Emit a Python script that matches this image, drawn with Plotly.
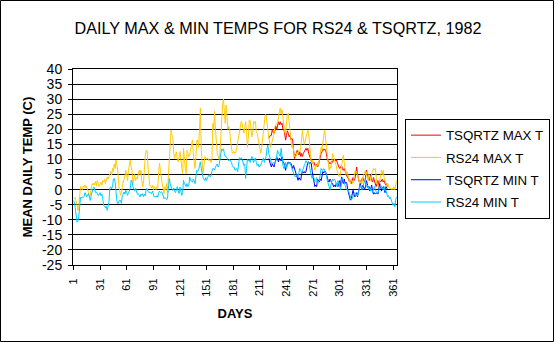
import plotly.graph_objects as go

# ---------------- data ----------------
DAYS_RS24 = list(range(1, 366))
DAYS_TSQ = list(range(221, 356))
X_TICKS = [1, 31, 61, 91, 121, 151, 181, 211, 241, 271, 301, 331, 361]
Y_TICKS = [-25, -20, -15, -10, -5, 0, 5, 10, 15, 20, 25, 30, 35, 40]

RS24_MAX = [
    -2.8, -3.0, -2.6, -3.5, -5.0, -6.9, -6.3, -2.0, 1.0, 0.5,
    0.0, 1.2, 0.8, 1.5, 0.5, 1.0, 0.2, -1.0, -2.4, -1.8,
    0.5, 2.0, 1.5, 2.2, 1.5, 2.8, 1.2, 3.0, 2.0, 1.0,
    1.8, 2.5, 1.5, 3.0, 2.5, 3.5, 2.0, 2.8, 4.2, 3.5,
    4.2, 5.0, 6.0, 4.8, 7.0, 6.0, 8.5, 7.0, 9.8, 8.0,
    6.0, 1.5, 0.0, -1.9, -1.0, 1.5, 2.5, 3.5, 4.5, 6.4,
    4.5, 3.0, 6.4, 8.0, 9.8, 7.5, 6.4, 2.0, 3.5, 5.0,
    3.0, 4.0, 3.5, 5.0, 6.4, 5.0, 6.4, 3.0, 0.9, 2.5,
    10.0, 11.5, 13.0, 13.0, 7.5, 3.0, 1.5, 1.0, 0.5, 1.5,
    0.0, 1.0, 0.5, 0.0, 1.0, 0.5, 6.0, 8.7, 6.4, 3.0,
    2.0, 0.5, -1.3, 1.0, 0.0, 2.0, -1.0, 5.0, 11.4, 16.0,
    19.8, 18.0, 17.5, 12.0, 10.3, 11.5, 12.5, 10.0, 9.2, 11.0,
    12.6, 10.0, 7.5, 5.3, 13.7, 9.0, 7.0, 5.3, 13.0, 12.0,
    11.0, 11.5, 13.0, 14.5, 16.4, 12.0, 9.0, 7.0, 11.0, 16.4,
    16.4, 14.0, 20.0, 27.0, 13.0, 9.0, 5.3, 8.0, 11.0, 10.5,
    10.0, 10.5, 10.0, 9.5, 10.0, 9.0, 10.0, 22.0, 20.0, 26.0,
    20.0, 15.3, 12.0, 11.0, 10.0, 12.0, 18.0, 25.3, 28.0, 30.0,
    25.3, 22.0, 28.0, 23.0, 20.0, 21.0, 20.0, 16.0, 13.0, 12.0,
    12.5, 12.5, 12.0, 12.5, 14.0, 15.5, 17.5, 19.0, 21.0, 22.6,
    22.0, 20.0, 18.7, 20.5, 22.5, 19.0, 14.0, 17.0, 23.0, 23.0,
    20.0, 17.5, 19.0, 22.6, 22.0, 22.6, 19.0, 18.7, 17.0, 15.0,
    13.5, 12.0, 13.7, 16.0, 20.0, 22.0, 24.8, 24.8, 23.0, 20.0,
    17.5, 16.0, 14.0, 15.0, 16.0, 17.0, 18.7, 21.0, 21.5, 22.0,
    22.0, 24.8, 26.0, 27.0, 25.0, 26.4, 24.0, 21.0, 19.0, 18.7,
    22.0, 25.0, 25.3, 22.0, 19.0, 16.0, 14.0, 15.0, 13.0, 11.0,
    10.9, 11.0, 12.5, 12.0, 13.0, 12.5, 14.0, 17.0, 19.8, 17.0,
    15.0, 16.0, 17.5, 18.7, 19.8, 18.7, 15.0, 10.0, 8.0, 9.8,
    8.5, 7.0, 6.4, 8.0, 7.5, 9.0, 8.0, 10.0, 12.0, 14.0,
    13.0, 16.4, 18.0, 19.8, 17.0, 14.0, 11.0, 9.0, 6.4, 8.0,
    7.0, 9.0, 12.0, 11.0, 10.0, 9.8, 8.0, 6.4, 5.0, 4.5,
    4.2, 6.0, 8.7, 10.0, 11.4, 9.0, 6.4, 5.0, 6.0, 4.5,
    4.2, 3.0, 2.0, 3.5, 2.5, 2.0, 4.0, 6.0, 5.5, 6.0,
    4.5, 3.5, 2.5, 2.0, 3.0, 2.0, 4.0, 5.0, 5.9, 5.0,
    5.9, 4.0, 3.0, 5.0, 4.0, 3.0, 5.5, 6.0, 7.0, 6.5,
    7.0, 3.0, 2.0, 1.5, 1.0, 3.0, 4.5, 6.4, 5.0, 6.4,
    4.0, 3.0, 2.0, 1.0, 2.0, 1.0, 0.9, 0.5, 0.0, 0.5,
    0.0, 1.0, 0.0, 1.5, 3.0,
]

RS24_MIN = [
    -3.6, -4.1, -6.0, -9.0, -10.8, -10.5, -9.0, -5.8, -2.5, -2.8,
    -2.4, -2.6, -2.2, -1.0, -1.5, -2.4, -1.8, -1.3, -2.5, -3.6,
    -2.0, -0.5, 0.3, 0.9, -0.5, -1.0, -0.8, -1.2, -2.0, -1.5,
    -1.0, -2.0, -1.5, -3.0, -5.2, -5.5, -6.0, -5.5, -6.9, -5.5,
    -4.0, 0.5, 0.9, 0.3, 1.0, 3.5, 3.7, 2.5, -1.0, -4.0,
    -4.7, -4.2, -3.5, -3.6, -4.5, -2.0, -1.0, -0.8, -1.5, -0.2,
    -1.0, -1.9, -1.0, -0.5, 0.3, 3.1, 2.6, 1.0, 0.0, -0.5,
    0.5, -1.0, -1.5, -1.3, -2.0, -2.4, -1.5, -2.0, -1.3, -2.4,
    -1.5, -2.0, 0.3, 0.3, -0.5, -1.0, -0.8, -1.0, -1.3, -0.5,
    -1.5, -2.5, -2.2, -2.5, -2.0, -2.5, -1.0, -0.5, -1.0, -0.8,
    -1.0, -2.0, -3.0, -2.6, -3.0, -3.3, -2.8, 0.5, 3.7, 2.0,
    0.3, 0.0, -0.2, 0.5, -0.5, -1.0, 0.0, 1.0, -0.5, -1.3,
    0.9, -0.2, -1.9, -1.0, 3.1, 2.0, 1.5, 1.0, 2.0, 1.0,
    1.5, 4.2, 3.0, 3.0, 2.5, 3.5, 3.0, 2.0, 4.5, 6.4,
    6.0, 6.4, 8.0, 9.2, 7.0, 5.3, 4.0, 3.5, 3.0, 4.0,
    3.0, 4.0, 4.5, 5.0, 4.2, 4.5, 6.0, 7.0, 7.0, 6.5,
    7.5, 8.0, 8.5, 7.5, 8.0, 9.8, 12.0, 13.5, 13.0, 13.5,
    12.0, 11.0, 11.0, 10.5, 10.0, 9.5, 10.0, 9.5, 9.0, 8.0,
    7.5, 7.5, 6.4, 6.5, 7.0, 6.0, 9.0, 10.6, 10.0, 10.6,
    10.0, 9.0, 8.0, 8.5, 3.7, 7.0, 10.0, 9.5, 10.0, 9.0,
    10.0, 11.0, 10.0, 9.0, 10.0, 10.5, 9.0, 8.0, 8.5, 7.5,
    8.0, 8.0, 9.0, 10.0, 10.5, 9.0, 10.0, 11.0, 13.5, 14.8,
    12.0, 10.9, 9.5, 9.0, 8.5, 9.0, 8.7, 8.5, 9.5, 11.0,
    13.0, 12.0, 11.5, 11.0, 13.7, 10.0, 8.0, 7.0, 8.5, 9.0,
    7.0, 8.5, 9.0, 8.5, 8.7, 8.0, 7.0, 6.4, 5.0, 4.5,
    4.2, 4.5, 5.0, 4.2, 6.0, 7.0, 6.4, 5.5, 6.0, 7.5,
    8.0, 8.7, 9.6, 9.0, 8.7, 9.0, 7.0, 5.3, 4.5, 3.7,
    4.5, 3.7, 2.5, 3.0, 4.0, 2.0, 2.5, 3.0, 5.0, 7.0,
    6.4, 6.5, 7.0, 6.4, 5.5, 5.0, 3.0, 2.0, 0.5, 0.0,
    1.5, 2.5, 3.5, 3.0, 3.5, 3.0, 2.0, 1.0, 3.0, 2.0,
    1.0, 0.0, 3.0, 4.0, 3.0, 2.5, 1.5, 0.5, 0.0, 0.0,
    -0.5, -1.3, -2.5, -3.5, -3.0, -2.0, -1.5, -1.0, -2.0, -1.5,
    -2.0, -1.0, 0.5, 1.5, 0.8, 0.0, 1.0, 2.0, 3.0, 2.0,
    1.0, 1.5, 1.0, 0.0, 0.5, -0.5, 0.0, -1.0, 0.5, 1.0,
    0.0, -0.5, -1.3, -1.0, -0.5, 0.5, 1.5, 1.0, 0.5, 0.0,
    1.0, -0.5, -0.2, -1.0, -2.4, -2.0, -3.0, -2.5, -3.5, -4.0,
    -5.2, -4.5, -5.8, -3.5, -2.4,
]

TSQRTZ_MAX = [
    17.0, 17.5, 18.0, 18.0, 20.0, 19.0, 18.7, 19.5, 21.0, 20.0,
    22.0, 22.5, 21.5, 22.5, 21.5, 22.0, 20.0, 20.0, 18.5, 16.4,
    18.0, 19.5, 18.7, 17.5, 18.0, 16.5, 17.0, 16.5, 13.0, 10.3,
    11.5, 12.0, 13.0, 12.0, 11.5, 12.5, 11.0, 12.0, 11.0, 12.0,
    12.5, 13.0, 13.7, 13.0, 13.7, 12.0, 11.0, 10.0, 9.6, 9.0,
    8.7, 9.0, 8.0, 8.0, 8.5, 7.5, 8.0, 9.5, 11.0, 12.0,
    12.5, 13.5, 13.0, 13.5, 13.0, 12.0, 10.0, 9.5, 9.0, 8.5,
    9.0, 9.5, 9.0, 10.0, 10.0, 9.5, 10.0, 9.0, 8.0, 7.5,
    7.0, 7.5, 8.0, 7.0, 6.4, 7.0, 6.0, 5.0, 4.5, 4.0,
    3.5, 2.5, 3.0, 2.0, 3.0, 4.0, 3.0, 3.5, 5.0, 7.5,
    5.0, 4.0, 2.5, 3.0, 2.0, 3.5, 4.0, 3.0, 2.5, 4.0,
    6.5, 5.0, 4.0, 3.0, 4.5, 5.0, 3.0, 2.5, 4.0, 3.0,
    2.0, 1.0, 2.0, 3.0, 1.5, 3.0, 2.5, 3.0, 3.5, 2.5,
    3.0, 2.0, 1.5, 2.0, 1.0,
]

TSQRTZ_MIN = [
    10.3, 9.0, 8.0, 7.5, 8.5, 8.0, 7.5, 9.0, 10.0, 10.9,
    10.0, 9.2, 10.5, 10.0, 9.5, 10.9, 9.2, 9.0, 7.0, 6.4,
    8.0, 9.0, 9.2, 8.7, 9.0, 8.7, 8.0, 7.0, 8.0, 7.0,
    6.0, 5.3, 4.0, 3.1, 4.0, 3.5, 3.1, 5.0, 6.0, 5.5,
    6.0, 5.5, 6.0, 7.5, 9.0, 9.2, 8.7, 9.0, 8.5, 6.0,
    4.2, 2.5, 1.0, 1.5, 1.0, 3.5, 3.0, 2.5, 3.5, 3.0,
    4.5, 6.0, 5.5, 6.0, 6.0, 5.0, 3.5, 3.0, 2.5, 3.5,
    3.0, 2.0, 2.0, 1.0, 1.5, 0.9, 2.0, 1.5, 1.0, 2.0,
    3.0, 1.0, 4.2, 3.0, 2.0, 3.5, 2.0, 2.5, 2.0, 0.0,
    -1.3, -2.5, -3.5, -3.0, -2.0, -0.2, -1.5, -2.4, -2.0, -1.0,
    -2.4, -0.5, 0.0, 2.0, 1.0, 0.0, 1.5, 0.5, 0.0, 1.0,
    3.0, 2.0, 0.5, 1.0, -0.5, 0.5, 1.5, -0.5, -1.5, -1.0,
    -1.5, -1.2, -1.0, -1.5, 0.0, 2.0, 1.0, -0.5, 0.5, 1.0,
    0.0, -1.0, 1.0, 0.5, 0.0,
]

SERIES = [
    ("TSQRTZ MAX T", DAYS_TSQ, TSQRTZ_MAX, "#FF0000"),
    ("RS24 MAX T", DAYS_RS24, RS24_MAX, "#FFCC00"),
    ("TSQRTZ MIN T", DAYS_TSQ, TSQRTZ_MIN, "#0000FF"),
    ("RS24 MIN T", DAYS_RS24, RS24_MIN, "#00CCFF"),
]

# ---------------- figure ----------------
W, H = 556, 342
FONT = "Arial, 'Liberation Sans', sans-serif"

fig = go.Figure()
for i, (name, xs, ys, col) in enumerate(SERIES):
    fig.add_trace(go.Scatter(
        x=xs, y=ys, name=name, mode="lines",
        line=dict(color=col, width=1),
        legendgroup=f"g{i}",
    ))

# plot area in pixels
PL, PR, PT, PB = 73, 397, 69, 265

fig.update_layout(
    width=W, height=H,
    margin=dict(l=0, r=0, t=0, b=0, pad=0, autoexpand=False),
    paper_bgcolor="white", plot_bgcolor="white",
    font=dict(family=FONT, color="black", size=12),
    title=dict(
        text="DAILY MAX & MIN TEMPS FOR RS24 & TSQRTZ, 1982",
        x=0.5, xanchor="center", y=1 - 28 / H, yanchor="middle",
        xref="paper", yref="container", automargin=False,
        font=dict(size=16.2, family=FONT, color="black"),
    ),
    showlegend=True,
    legend=dict(
        x=405 / W, y=1 - 119 / H, xanchor="left", yanchor="top",
        bordercolor="black", borderwidth=1, bgcolor="white",
        font=dict(size=13.3, family=FONT, color="black"),
        traceorder="grouped", tracegroupgap=2,
    ),
    xaxis=dict(
        domain=[PL / W, PR / W],
        range=[0.5, 365.5],
        automargin=False,
        tickmode="array", tickvals=X_TICKS, ticktext=[str(t) for t in X_TICKS],
        tickangle=-90,
        ticks="outside", ticklen=4, tickcolor="black", tickwidth=1,
        ticklabelstandoff=4,
        showline=True, linecolor="black", linewidth=1, mirror=True,
        showgrid=False, zeroline=False,
        tickfont=dict(size=11, family=FONT),
        title=dict(text="<b>DAYS</b>", font=dict(size=13, family=FONT), standoff=13),
    ),
    yaxis=dict(
        domain=[1 - PB / H, 1 - PT / H],
        range=[-25, 40],
        automargin=False,
        tickmode="array", tickvals=Y_TICKS, ticktext=[str(t) for t in Y_TICKS],
        ticks="outside", ticklen=4, tickcolor="black", tickwidth=1,
        ticklabelstandoff=3,
        showline=True, linecolor="black", linewidth=1, mirror=True,
        showgrid=True, gridcolor="black", gridwidth=1,
        zeroline=False,
        tickfont=dict(size=14, family=FONT),
        title=dict(text="<b>MEAN DAILY TEMP (C)</b>", font=dict(size=13, family=FONT), standoff=6),
    ),
    shapes=[dict(
        type="rect", xref="paper", yref="paper",
        x0=0.5 / W, x1=1 - 2.5 / W, y0=0.5 / H, y1=1 - 0.5 / H,
        line=dict(color="black", width=1), fillcolor="rgba(0,0,0,0)",
    )],
)

fig.write_html("out.html")
